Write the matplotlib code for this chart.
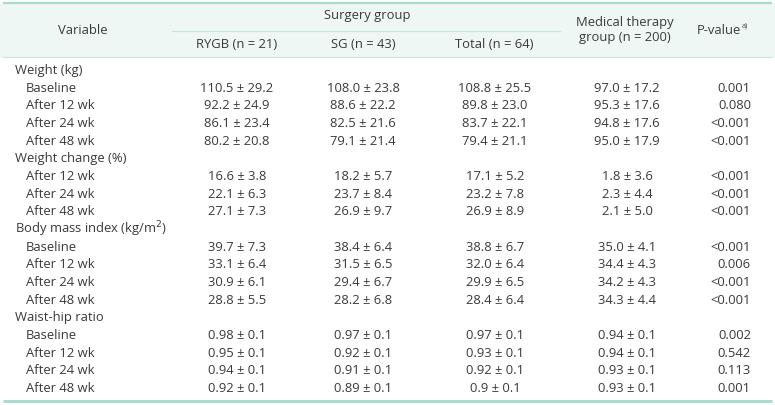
import matplotlib
matplotlib.use("Agg")
import matplotlib.pyplot as plt

# ---- data ----
row_labels = ["Weight (kg)", "Baseline", "After 12 wk", "After 24 wk", "After 48 wk",
              "Weight change (%)", "After 12 wk", "After 24 wk", "After 48 wk",
              "Body mass index (kg/m$^2$)", "Baseline", "After 12 wk", "After 24 wk", "After 48 wk",
              "Waist-hip ratio", "Baseline", "After 12 wk", "After 24 wk", "After 48 wk"]
is_group = [True, False, False, False, False,
            True, False, False, False,
            True, False, False, False, False,
            True, False, False, False, False]
rygb = ["", "110.5 ± 29.2", "92.2 ± 24.9", "86.1 ± 23.4", "80.2 ± 20.8",
        "", "16.6 ± 3.8", "22.1 ± 6.3", "27.1 ± 7.3",
        "", "39.7 ± 7.3", "33.1 ± 6.4", "30.9 ± 6.1", "28.8 ± 5.5",
        "", "0.98 ± 0.1", "0.95 ± 0.1", "0.94 ± 0.1", "0.92 ± 0.1"]
sg = ["", "108.0 ± 23.8", "88.6 ± 22.2", "82.5 ± 21.6", "79.1 ± 21.4",
      "", "18.2 ± 5.7", "23.7 ± 8.4", "26.9 ± 9.7",
      "", "38.4 ± 6.4", "31.5 ± 6.5", "29.4 ± 6.7", "28.2 ± 6.8",
      "", "0.97 ± 0.1", "0.92 ± 0.1", "0.91 ± 0.1", "0.89 ± 0.1"]
total = ["", "108.8 ± 25.5", "89.8 ± 23.0", "83.7 ± 22.1", "79.4 ± 21.1",
         "", "17.1 ± 5.2", "23.2 ± 7.8", "26.9 ± 8.9",
         "", "38.8 ± 6.7", "32.0 ± 6.4", "29.9 ± 6.5", "28.4 ± 6.4",
         "", "0.97 ± 0.1", "0.93 ± 0.1", "0.92 ± 0.1", "0.9 ± 0.1"]
medical = ["", "97.0 ± 17.2", "95.3 ± 17.6", "94.8 ± 17.6", "95.0 ± 17.9",
           "", "1.8 ± 3.6", "2.3 ± 4.4", "2.1 ± 5.0",
           "", "35.0 ± 4.1", "34.4 ± 4.3", "34.2 ± 4.3", "34.3 ± 4.4",
           "", "0.94 ± 0.1", "0.94 ± 0.1", "0.93 ± 0.1", "0.93 ± 0.1"]
pvalue = ["", "0.001", "0.080", "<0.001", "<0.001",
          "", "<0.001", "<0.001", "<0.001",
          "", "<0.001", "0.006", "<0.001", "<0.001",
          "", "0.002", "0.542", "0.113", "0.001"]
headers = ["Variable", "Surgery group", "RYGB (n = 21)", "SG (n = 43)", "Total (n = 64)",
           "Medical therapy\ngroup (n = 200)", "P-value"]

# ---- layout ----
W, H = 775, 405
fig = plt.figure(figsize=(W / 100, H / 100), dpi=100)
ax = fig.add_axes([0, 0, 1, 1])
ax.set_xlim(0, W)
ax.set_ylim(H, 0)
ax.axis("off")

FONT = "Open Sans"
FS = 9.4
TC = "#3a3a3a"
band = "#eef7f4"
line_c = "#a9dccb"
thin_c = "#c9e8dd"

ax.add_patch(plt.Rectangle((0, 3), W, 54, color=band, zorder=0, lw=0))
ax.plot([3, 772], [3.2, 3.2], color=line_c, lw=1.6, solid_capstyle="butt")
ax.plot([172, 560], [31, 31], color=thin_c, lw=0.9)
ax.plot([3, 772], [56.5, 56.5], color=thin_c, lw=0.9)
ax.plot([3, 772], [401, 401], color=line_c, lw=2.2, solid_capstyle="butt")

kw = dict(fontsize=FS, color=TC, family=FONT, va="center")
ax.text(83, 30, headers[0], ha="center", **kw)
ax.text(367, 16, headers[1], ha="center", **kw)
ax.text(237, 44, headers[2], ha="center", **kw)
ax.text(363, 44, headers[3], ha="center", **kw)
ax.text(494, 44, headers[4], ha="center", **kw)
ax.text(625, 30, headers[5], ha="center", linespacing=1.15, **kw)
ax.text(741, 30, headers[6], ha="right", **kw)
ax.text(741.5, 26, "a)", ha="left", fontsize=FS * 0.55, color=TC, family=FONT, va="center")

y0, dy = 70.5, 17.66
for i, lab in enumerate(row_labels):
    y = y0 + i * dy
    ax.text(15 if is_group[i] else 26, y, lab, ha="left", **kw)
    ax.text(237, y, rygb[i], ha="center", **kw)
    ax.text(363, y, sg[i], ha="center", **kw)
    ax.text(495, y, total[i], ha="center", **kw)
    ax.text(627, y, medical[i], ha="center", **kw)
    ax.text(751, y, pvalue[i], ha="right", **kw)

fig.savefig("out.png", dpi=100)
